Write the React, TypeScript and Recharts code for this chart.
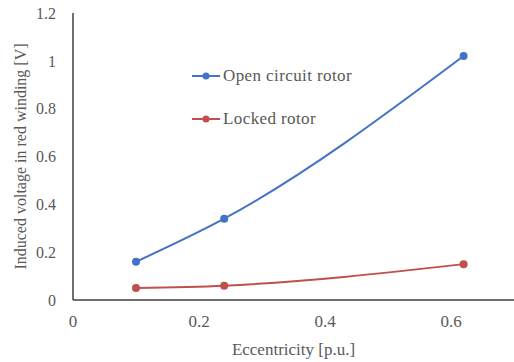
import { Line, LineChart, XAxis, YAxis } from 'recharts'

const eccentricity = [0.1, 0.24, 0.62]
const openCircuit = [0.16, 0.34, 1.02]
const locked = [0.05, 0.06, 0.15]
const xTicks = [0, 0.2, 0.4, 0.6]
const yTicks = [0, 0.2, 0.4, 0.6, 0.8, 1, 1.2]

const seriesNames = ['Open circuit rotor', 'Locked rotor']
const seriesColors = ['#4472c4', '#c0504d']

const data = eccentricity.map((e, i) => ({
  e,
  open: openCircuit[i],
  locked: locked[i],
}))

const font = 'Liberation Serif'
const grey = '#595959'

function LegendBox() {
  return (
    <div
      style={{
        position: 'absolute',
        left: 192,
        top: 66,
        fontFamily: font,
        fontSize: 17,
        color: grey,
      }}
    >
      {seriesNames.map((name, i) => (
        <div
          key={name}
          style={{ display: 'flex', alignItems: 'center', height: 20, marginBottom: i === 0 ? 23 : 0 }}
        >
          <svg width={30} height={10} style={{ marginRight: 1 }}>
            <line x1={0} y1={5} x2={28} y2={5} stroke={seriesColors[i]} strokeWidth={2} />
            <circle cx={14} cy={5} r={3.5} fill={seriesColors[i]} />
          </svg>
          <span style={{ letterSpacing: 0.4 }}>{name}</span>
        </div>
      ))}
    </div>
  )
}

export default function App() {
  return (
    <div style={{ position: 'relative', width: 514, height: 362, background: '#fff' }}>
      <style>{'body{margin:0}'}</style>
      <LineChart
        width={514}
        height={362}
        data={data}
        margin={{ top: 13, right: 0, left: 0, bottom: 0 }}
      >
        <XAxis
          dataKey="e"
          type="number"
          domain={[0, 0.7]}
          ticks={xTicks}
          height={62}
          tickSize={0}
          tickMargin={15}
          tick={{ fontSize: 17, fontFamily: font, fill: grey }}
          axisLine={{ stroke: '#404040', strokeWidth: 1.5 }}
          label={{
            value: 'Eccentricity [p.u.]',
            position: 'insideBottom',
            offset: 7,
            style: { fontSize: 17, fontFamily: font, fill: grey },
          }}
        />
        <YAxis
          type="number"
          domain={[0, 1.2]}
          ticks={yTicks}
          width={73}
          tickSize={0}
          tickMargin={17}
          tick={{ fontSize: 16, fontFamily: font, fill: grey }}
          axisLine={{ stroke: '#404040', strokeWidth: 1.5 }}
          label={{
            value: 'Induced voltage in red winding [V]',
            angle: -90,
            position: 'insideLeft',
            offset: 20,
            style: { fontSize: 16, fontFamily: font, fill: grey, textAnchor: 'middle' },
          }}
        />
        <Line
          type="monotone"
          dataKey="open"
          stroke={seriesColors[0]}
          strokeWidth={2}
          dot={{ r: 4, fill: seriesColors[0], stroke: seriesColors[0], strokeWidth: 0 }}
          isAnimationActive={false}
        />
        <Line
          type="monotone"
          dataKey="locked"
          stroke={seriesColors[1]}
          strokeWidth={2}
          dot={{ r: 4, fill: seriesColors[1], stroke: seriesColors[1], strokeWidth: 0 }}
          isAnimationActive={false}
        />
      </LineChart>
      <LegendBox />
    </div>
  )
}
